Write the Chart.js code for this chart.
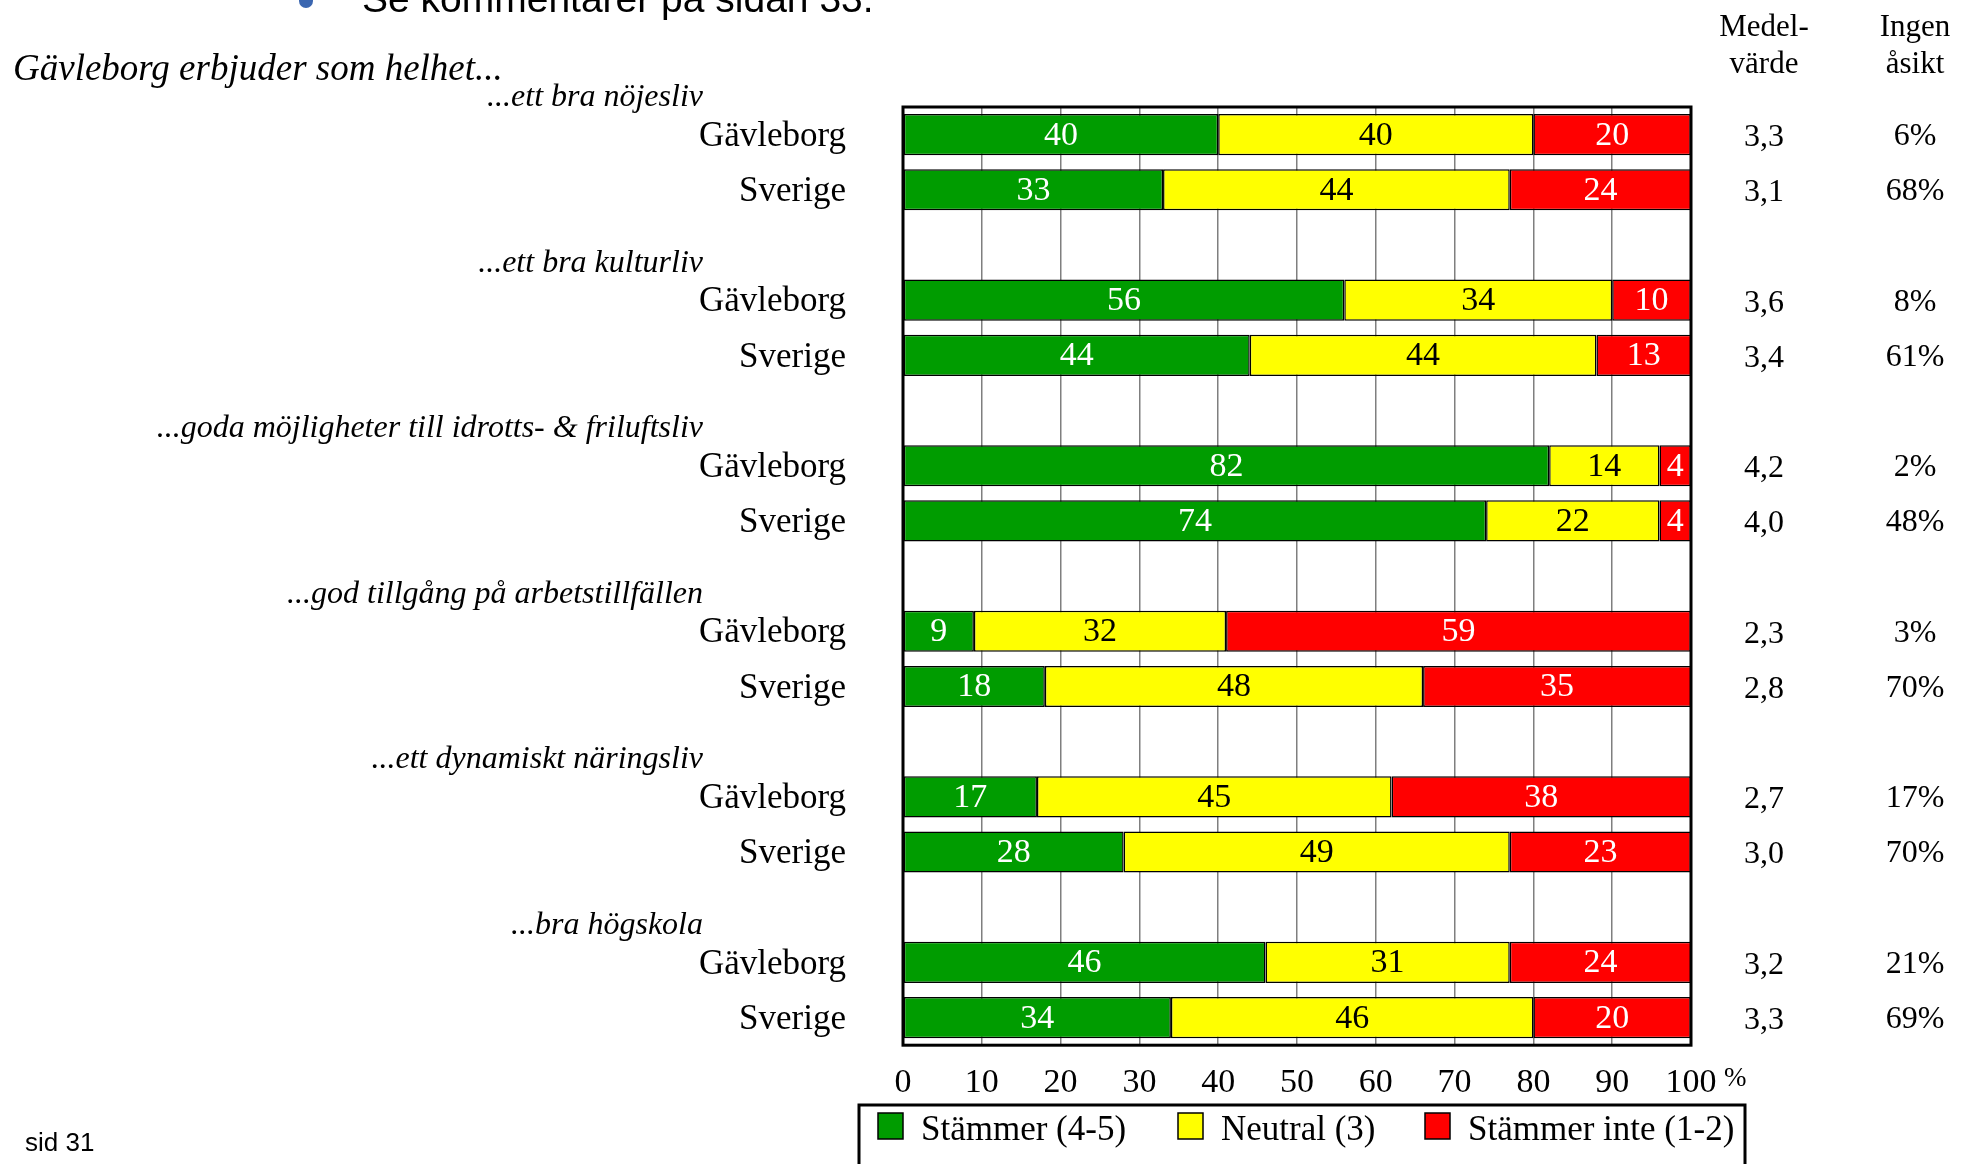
<!DOCTYPE html>
<html>
<head>
<meta charset="utf-8">
<script src="https://cdn.jsdelivr.net/npm/chart.js@4/dist/chart.umd.min.js"></script>
<style>
  html, body { margin: 0; padding: 0; background: #fff; }
  canvas { display: block; }
</style>
</head>
<body>
<canvas id="chart" width="1975" height="1164"></canvas>
<script>
// data
const groupTitles = [
  '...ett bra nöjesliv',
  '...ett bra kulturliv',
  '...goda möjligheter till idrotts- & friluftsliv',
  '...god tillgång på arbetstillfällen',
  '...ett dynamiskt näringsliv',
  '...bra högskola'
];
const rowNames = ['Gävleborg', 'Sverige'];
const agree    = [40, 33, 56, 44, 82, 74,  9, 18, 17, 28, 46, 34];
const neutral  = [40, 44, 34, 44, 14, 22, 32, 48, 45, 49, 31, 46];
const disagree = [20, 24, 10, 13,  4,  4, 59, 35, 38, 23, 24, 20];
const meanVals  = ['3,3', '3,1', '3,6', '3,4', '4,2', '4,0', '2,3', '2,8', '2,7', '3,0', '3,2', '3,3'];
const noOpinion = ['6%', '68%', '8%', '61%', '2%', '48%', '3%', '70%', '17%', '70%', '21%', '69%'];
const seriesNames = ['Stämmer (4-5)', 'Neutral (3)', 'Stämmer inte (1-2)'];
const seriesColors = ['#009c00', '#ffff00', '#ff0000'];
const labelColors = ['#ffffff', '#000000', '#ffffff'];

const SERIF = '"Liberation Serif", "Times New Roman", serif';
const SANS = '"Liberation Sans", Arial, sans-serif';

// one slot per bar, plus an empty slot between groups
const slots = [];      // category labels
const slotRow = [];    // index into the value arrays, or -1 for the gap
groupTitles.forEach(function (t, g) {
  rowNames.forEach(function (n, r) {
    slots.push(n + ' ' + g);
    slotRow.push(g * 2 + r);
  });
  if (g < groupTitles.length - 1) {
    slots.push('gap ' + g);
    slotRow.push(-1);
  }
});
function spread(arr) {
  return slotRow.map(function (i) { return i < 0 ? null : arr[i]; });
}

const datasets = [agree, neutral, disagree].map(function (arr, k) {
  return {
    label: seriesNames[k],
    data: spread(arr),
    backgroundColor: seriesColors[k],
    borderColor: '#000',
    borderWidth: 1.5,
    borderSkipped: false,
    barPercentage: 0.745,
    categoryPercentage: 1
  };
});

const decor = {
  id: 'decor',
  afterDatasetsDraw(chart) {
    const ctx = chart.ctx;
    ctx.save();
    ctx.font = '34px ' + SERIF;
    ctx.textAlign = 'center';
    ctx.textBaseline = 'middle';
    chart.data.datasets.forEach(function (ds, k) {
      const meta = chart.getDatasetMeta(k);
      meta.data.forEach(function (bar, i) {
        const v = ds.data[i];
        if (v == null) return;
        const p = bar.getProps(['x', 'base', 'y'], true);
        const right = Math.min(p.x, chart.chartArea.right);
        ctx.fillStyle = labelColors[k];
        ctx.fillText(String(v), (p.base + right) / 2, p.y + 1);
      });
    });
    ctx.restore();
  },
  afterDraw(chart) {
    const ctx = chart.ctx;
    const a = chart.chartArea;
    const y = chart.scales.y;
    ctx.save();

    // plot frame
    ctx.strokeStyle = '#000';
    ctx.lineWidth = 3;
    ctx.strokeRect(a.left, a.top, a.right - a.left, a.bottom - a.top);

    // row names, group titles, right-hand columns
    ctx.fillStyle = '#000';
    ctx.textBaseline = 'middle';
    slotRow.forEach(function (row, s) {
      if (row < 0) return;
      const py = y.getPixelForValue(s);
      ctx.font = '35px ' + SERIF;
      ctx.textAlign = 'right';
      ctx.fillText(rowNames[row % 2], 846, py + 2);
      ctx.font = '32px ' + SERIF;
      ctx.textAlign = 'center';
      ctx.fillText(meanVals[row], 1764, py + 3);
      ctx.fillText(noOpinion[row], 1915, py + 2);
      if (row % 2 === 0) {
        ctx.font = 'italic 32px ' + SERIF;
        ctx.textAlign = 'right';
        ctx.fillText(groupTitles[row / 2], 703, py - 37);
      }
    });

    // column headers
    ctx.textBaseline = 'alphabetic';
    ctx.textAlign = 'center';
    ctx.font = '31px ' + SERIF;
    ctx.fillText('Medel-', 1764, 36);
    ctx.fillText('värde', 1764, 73);
    ctx.fillText('Ingen', 1915, 36);
    ctx.fillText('åsikt', 1915, 73);

    // percent sign after the last tick
    ctx.textAlign = 'left';
    ctx.font = '27px ' + SERIF;
    ctx.fillText('%', 1724, 1086);

    // title
    ctx.font = 'italic 37px ' + SERIF;
    ctx.fillText('Gävleborg erbjuder som helhet...', 13, 80);

    // cut-off bullet line at the top
    ctx.fillStyle = '#3a66b0';
    ctx.beginPath();
    ctx.arc(306, 1, 7, 0, Math.PI * 2);
    ctx.fill();
    ctx.fillStyle = '#000';
    ctx.font = '39px ' + SANS;
    ctx.fillText('Se kommentarer på sidan 33.', 362, 12);

    // page number
    ctx.font = '26px ' + SANS;
    ctx.fillText('sid 31', 25, 1151);

    // legend
    ctx.lineWidth = 3;
    ctx.strokeRect(859, 1105, 886, 80);
    const lx = [878, 1178, 1425];
    ctx.font = '35px ' + SERIF;
    ctx.textBaseline = 'middle';
    seriesNames.forEach(function (name, k) {
      ctx.fillStyle = seriesColors[k];
      ctx.fillRect(lx[k], 1113, 25, 26);
      ctx.lineWidth = 1.5;
      ctx.strokeStyle = '#000';
      ctx.strokeRect(lx[k], 1113, 25, 26);
      ctx.fillStyle = '#000';
      ctx.fillText(name, lx[k] + 43, 1131);
    });
    ctx.restore();
  }
};

new Chart(document.getElementById('chart'), {
  type: 'bar',
  data: { labels: slots, datasets: datasets },
  options: {
    indexAxis: 'y',
    responsive: false,
    devicePixelRatio: 1,
    animation: false,
    layout: { padding: { left: 903, right: 284, top: 107, bottom: 44 } },
    plugins: { legend: { display: false }, tooltip: { enabled: false } },
    scales: {
      x: {
        stacked: true,
        min: 0,
        max: 100,
        ticks: {
          stepSize: 10,
          color: '#000',
          padding: 17,
          font: { family: SERIF, size: 34 }
        },
        grid: { color: '#7f7f7f', lineWidth: 1.5, drawTicks: false },
        border: { display: false }
      },
      y: {
        stacked: true,
        display: false
      }
    }
  },
  plugins: [decor]
});
</script>
</body>
</html>
